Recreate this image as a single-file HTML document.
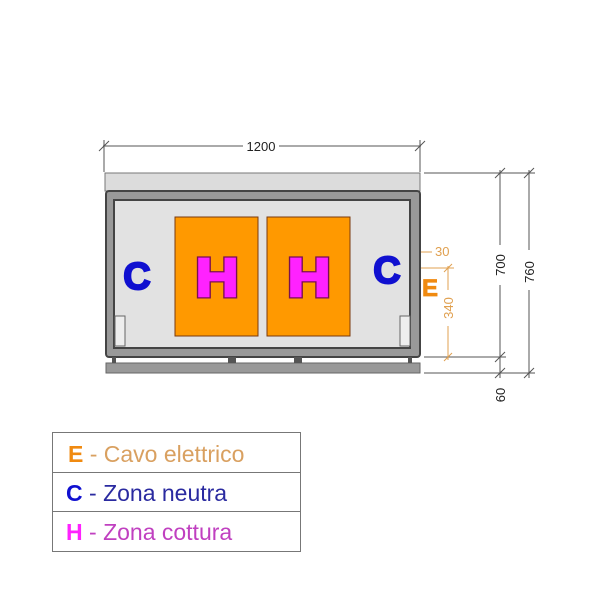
<!DOCTYPE html><html><head><style>body{margin:0;background:#fff}</style></head><body>
<svg width="600" height="600" xmlns="http://www.w3.org/2000/svg" style="display:block">
<rect width="600" height="600" fill="#fff"/>
<g stroke="#555" stroke-width="1" fill="none">
<line x1="103" y1="146" x2="421" y2="146"/>
<line x1="104" y1="140" x2="104" y2="172"/>
<line x1="420" y1="140" x2="420" y2="172"/>
<line x1="99" y1="151" x2="109" y2="141"/><line x1="415" y1="151" x2="425" y2="141"/>
<line x1="424" y1="173" x2="535" y2="173"/>
<line x1="424" y1="357" x2="506" y2="357"/>
<line x1="424" y1="373" x2="535" y2="373"/>
<line x1="500" y1="170" x2="500" y2="378"/>
<line x1="529" y1="170" x2="529" y2="378"/>
<line x1="495" y1="178" x2="505" y2="168"/><line x1="495" y1="362" x2="505" y2="352"/><line x1="495" y1="378" x2="505" y2="368"/>
<line x1="524" y1="178" x2="534" y2="168"/><line x1="524" y1="378" x2="534" y2="368"/>
</g>
<rect x="493" y="245" width="14" height="40" fill="#fff"/>
<rect x="522" y="250" width="14" height="40" fill="#fff"/>
<g font-family="Liberation Sans,sans-serif" font-size="13" fill="#222">
<rect x="243" y="139" width="36" height="14" fill="#fff"/>
<text x="261" y="151" text-anchor="middle">1200</text>
<text transform="translate(505,265) rotate(-90)" text-anchor="middle">700</text>
<text transform="translate(534,272) rotate(-90)" text-anchor="middle">760</text>
<text transform="translate(505,395) rotate(-90)" text-anchor="middle">60</text>
</g>
<g stroke="#e0a050" stroke-width="1" fill="none">
<line x1="405" y1="252" x2="432" y2="252"/>
<line x1="420" y1="268" x2="454" y2="268"/>
<line x1="448" y1="266" x2="448" y2="360"/>
<line x1="444" y1="272" x2="452" y2="264"/><line x1="444" y1="361" x2="452" y2="353"/>
</g>
<rect x="441" y="290" width="14" height="36" fill="#fff"/>
<g font-family="Liberation Sans,sans-serif" font-size="13" fill="#e0a050">
<text x="435" y="256">30</text>
<text transform="translate(453,308) rotate(-90)" text-anchor="middle">340</text>
</g>
<text x="422" y="296" font-family="Liberation Sans,sans-serif" font-weight="bold" font-size="24" fill="#f08a10" stroke="#f08a10" stroke-width="0.8">E</text>
<rect x="105" y="173" width="315" height="18" fill="#dcdcdc" stroke="#777"/>
<rect x="106" y="191" width="314" height="166" rx="3" fill="#999" stroke="#444" stroke-width="2"/>
<rect x="114" y="200" width="296" height="148" fill="#e2e2e2" stroke="#444" stroke-width="2"/>
<rect x="115" y="316" width="10" height="30" fill="#eee" stroke="#666"/>
<rect x="400" y="316" width="10" height="30" fill="#eee" stroke="#666"/>
<rect x="106" y="363" width="314" height="10" fill="#999" stroke="#666"/>
<g fill="#555"><rect x="228" y="357" width="8" height="6"/><rect x="294" y="357" width="8" height="6"/><rect x="112" y="357" width="4" height="6"/><rect x="408" y="357" width="4" height="6"/></g>
<rect x="175" y="217" width="83" height="119" fill="#ff9900" stroke="#7a3a10"/>
<rect x="267" y="217" width="83" height="119" fill="#ff9900" stroke="#7a3a10"/>
<g font-family="Liberation Sans,sans-serif" font-weight="bold" font-size="54" text-anchor="middle">
<g fill="#7a1050" stroke="#7a1050" stroke-width="5" stroke-linejoin="miter">
<text transform="translate(217,296) scale(1.1,1)">H</text><text transform="translate(309,296) scale(1.1,1)">H</text></g>
<g fill="#ff22ff" stroke="#ff22ff" stroke-width="2.5" stroke-linejoin="miter">
<text transform="translate(217,296) scale(1.1,1)">H</text><text transform="translate(309,296) scale(1.1,1)">H</text></g>
</g>
<g font-family="Liberation Sans,sans-serif" font-weight="bold" font-size="38" fill="#1010d0" stroke="#1010d0" stroke-width="2" text-anchor="middle">
<text x="137" y="289">C</text><text x="387" y="283">C</text></g>
<rect x="52.5" y="432.5" width="248" height="119" fill="#fff" stroke="#777"/>
<line x1="52" y1="472.5" x2="301" y2="472.5" stroke="#777"/>
<line x1="52" y1="511.5" x2="301" y2="511.5" stroke="#777"/>
<g font-family="Liberation Sans,sans-serif" font-size="23">
<text x="68" y="462" fill="#d9a060"><tspan font-weight="bold" fill="#f08a10">E</tspan> - Cavo elettrico</text>
<text x="66" y="501" fill="#2a2aa0"><tspan font-weight="bold" fill="#1010d0">C</tspan> - Zona neutra</text>
<text x="66" y="540" fill="#c040c0"><tspan font-weight="bold" fill="#ff22ff">H</tspan> - Zona cottura</text>
</g>
</svg></body></html>
